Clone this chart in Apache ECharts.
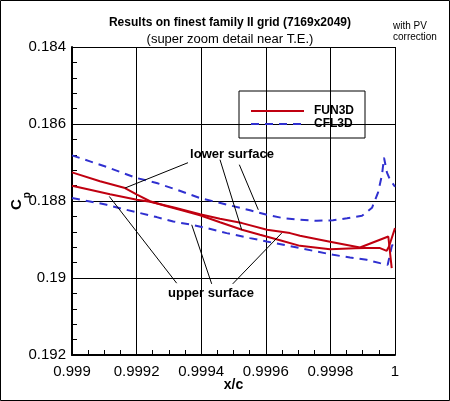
<!DOCTYPE html>
<html>
<head>
<meta charset="utf-8">
<script src="https://cdn.jsdelivr.net/npm/echarts@6/dist/echarts.min.js"></script>
<style>
html,body{margin:0;padding:0;background:#fff;}
#c{width:450px;height:401px;}
</style>
</head>
<body>
<div id="c"></div>
<script>
// ---- data ----
const xTickLabels = ['0.999', '0.9992', '0.9994', '0.9996', '0.9998', '1'];
const yTickLabels = ['0.184', '0.186', '0.188', '0.19', '0.192'];

// FUN3D lower surface
const funLowerX = [0.999, 0.9990867, 0.9991641, 0.9992012, 0.9992415, 0.9992879, 0.9993344, 0.9993963, 0.9994582, 0.9995263, 0.999582, 0.999644, 0.9997059, 0.9997988, 0.9998762, 0.9999071, 0.9999536, 0.9999743, 0.9999814, 1.0];
const funLowerY = [0.187257, 0.187486, 0.187663, 0.187837, 0.188006, 0.188124, 0.188228, 0.188371, 0.188553, 0.188748, 0.188878, 0.189021, 0.189165, 0.189255, 0.189229, 0.189224, 0.189224, 0.189294, 0.189182, 0.188704];
// FUN3D upper surface
const funUpperX = [0.999, 0.9990557, 0.9991176, 0.9992012, 0.9992415, 0.9993189, 0.9993963, 0.9994582, 0.9995263, 0.9996037, 0.999675, 0.9997059, 0.9997988, 0.9998916, 0.9999793, 0.9999898];
const funUpperY = [0.187603, 0.187707, 0.187824, 0.187967, 0.188019, 0.188176, 0.188345, 0.188462, 0.188574, 0.188748, 0.188834, 0.188904, 0.18906, 0.189208, 0.188922, 0.189744];
// CFL3D lower surface
const cflLowerX = [0.999, 0.9990557, 0.9991074, 0.9992003, 0.9992622, 0.9993241, 0.9993963, 0.9994684, 0.9995511, 0.9996037, 0.9996533, 0.9997059, 0.9997585, 0.999808, 0.9998514, 0.9998978, 0.9999288, 0.9999474, 0.9999598, 0.999966, 0.9999752, 0.9999845, 1.0];
const cflLowerY = [0.186815, 0.186971, 0.187117, 0.187403, 0.187533, 0.187707, 0.187923, 0.188071, 0.188241, 0.188358, 0.188444, 0.188488, 0.188514, 0.188501, 0.188449, 0.188384, 0.188176, 0.187785, 0.187317, 0.186875, 0.187265, 0.187447, 0.187629];
// CFL3D upper surface
const cflUpperX = [0.999, 0.9990557, 0.9991074, 0.9991588, 0.9992105, 0.9992622, 0.9993136, 0.9993706, 0.999417, 0.9994789, 0.9995511, 0.9996028, 0.9996542, 0.9997059, 0.9997576, 0.999809, 0.9998607, 0.9999124, 0.9999536, 0.9999774, 0.9999898, 1.0];
const cflUpperY = [0.187923, 0.188012, 0.188098, 0.188209, 0.188313, 0.188418, 0.188532, 0.188618, 0.188704, 0.188834, 0.188964, 0.189052, 0.189138, 0.189224, 0.189312, 0.189398, 0.189469, 0.189528, 0.189614, 0.189658, 0.189182, 0.189008];

// annotations (data coordinates)
const annotTexts = ['lower surface', 'upper surface'];
const annotX = [0.9994954, 0.9994303];
const annotY = [0.186797, 0.190413];
const leaderFrom = [[0.9993591, 0.187005], [0.9994582, 0.186927], [0.999518, 0.187057], [0.9993241, 0.190135], [0.9994325, 0.190153], [0.9994975, 0.190153]];
const leaderTo = [[0.9991641, 0.187663], [0.9995254, 0.188748], [0.9995768, 0.188228], [0.9991155, 0.187882], [0.9993706, 0.188618], [0.9996492, 0.188834]];

const zip = (xs, ys) => xs.map((x, i) => [x, ys[i]]);
const FONT = '"Liberation Sans", Arial, Helvetica, sans-serif';
const RED = '#c00010';
const BLUE = '#3030d0';

const chart = echarts.init(document.getElementById('c'), null, {renderer: 'canvas'});
chart.setOption({
  animation: false,
  textStyle: {fontFamily: FONT},
  title: [
    {
      text: 'Results on finest family II grid (7169x2049)',
      subtext: '(super zoom detail near T.E.)',
      left: 230, top: 17, textAlign: 'center', padding: 0, itemGap: 4,
      textStyle: {fontFamily: FONT, fontSize: 12, fontWeight: 'bold', color: '#000'},
      subtextStyle: {fontFamily: FONT, fontSize: 13, color: '#000'}
    },
    {
      text: 'with PV\ncorrection',
      left: 393, top: 21, padding: 0,
      textStyle: {fontFamily: FONT, fontSize: 10, fontWeight: 'normal', lineHeight: 10.5, color: '#000'}
    }
  ],
  legend: {
    orient: 'vertical', left: 239, top: 91,
    data: ['FUN3D', 'CFL3D'],
    itemWidth: 53, itemHeight: 14, itemGap: 1,
    padding: [14, 11, 8, 11],
    borderColor: '#000', borderWidth: 1,
    itemStyle: {opacity: 0},
    textStyle: {fontFamily: FONT, fontSize: 12, fontWeight: 'bold', color: '#000', padding: [0, 0, 0, 5]}
  },
  grid: {left: 72, right: 55, top: 47, bottom: 46, containLabel: false, outerBoundsMode: 'none'},
  xAxis: {
    type: 'value', min: 0.999, max: 1, interval: 0.0002,
    name: 'x/c', nameLocation: 'middle', nameGap: 23, nameMoveOverlap: false,
    nameTextStyle: {fontFamily: FONT, fontSize: 14, fontWeight: 'bold', color: '#000'},
    axisLine: {lineStyle: {color: '#000', width: 2}},
    axisTick: {inside: true, length: 9, lineStyle: {color: '#000', width: 1}},
    minorTick: {show: true, splitNumber: 4, length: 5, lineStyle: {color: '#000', width: 1}},
    splitLine: {show: true, lineStyle: {color: '#000', width: 1}},
    axisLabel: {
      color: '#000', fontSize: 15, margin: 9, fontFamily: FONT,
      formatter: v => xTickLabels[Math.round((v - 0.999) / 0.0002)]
    }
  },
  yAxis: {
    type: 'value', inverse: true, min: 0.184, max: 0.192, interval: 0.002,
    name: '{a|C}{b|p}', nameLocation: 'middle', nameGap: 47, nameRotate: 90, nameMoveOverlap: false,
    nameTextStyle: {
      color: '#000',
      rich: {
        a: {fontFamily: FONT, fontSize: 15, fontWeight: 'bold', color: '#000', lineHeight: 16},
        b: {fontFamily: FONT, fontSize: 10, fontWeight: 'bold', color: '#000', lineHeight: 10, padding: [20, 0, 0, 1]}
      }
    },
    axisLine: {lineStyle: {color: '#000', width: 2}},
    axisTick: {inside: true, length: 9, lineStyle: {color: '#000', width: 1}},
    minorTick: {show: true, splitNumber: 5, length: 5, lineStyle: {color: '#000', width: 1}},
    splitLine: {show: true, lineStyle: {color: '#000', width: 1}},
    axisLabel: {
      color: '#000', fontSize: 15, margin: 6, fontFamily: FONT,
      formatter: v => yTickLabels[Math.round((v - 0.184) / 0.002)]
    }
  },
  series: [
    {
      name: 'CFL3D', type: 'line', symbol: 'none', data: zip(cflLowerX, cflLowerY),
      lineStyle: {color: BLUE, width: 2, type: [8, 6]}, itemStyle: {color: BLUE}, z: 2
    },
    {
      name: 'CFL3D', type: 'line', symbol: 'none', data: zip(cflUpperX, cflUpperY),
      lineStyle: {color: BLUE, width: 2, type: [8, 6]}, itemStyle: {color: BLUE}, z: 2
    },
    {
      name: 'FUN3D', type: 'line', symbol: 'none', data: zip(funLowerX, funLowerY),
      lineStyle: {color: RED, width: 2}, itemStyle: {color: RED}, z: 3
    },
    {
      name: 'FUN3D', type: 'line', symbol: 'none', data: zip(funUpperX, funUpperY),
      lineStyle: {color: RED, width: 2}, itemStyle: {color: RED}, z: 3,
      markLine: {
        silent: true, symbol: ['none', 'none'], animation: false,
        lineStyle: {color: '#000', width: 1, type: 'solid'},
        label: {show: false},
        data: leaderFrom.map((p, i) => [{coord: p}, {coord: leaderTo[i]}])
      },
      markPoint: {
        silent: true, symbol: 'rect', symbolSize: 1,
        itemStyle: {color: 'rgba(0,0,0,0)'},
        label: {show: true, position: 'inside', color: '#000', fontFamily: FONT, fontSize: 13, fontWeight: 'bold', formatter: '{b}'},
        data: annotTexts.map((t, i) => ({name: t, coord: [annotX[i], annotY[i]]}))
      }
    }
  ],
  graphic: [
    {type: 'rect', silent: true, z: 100, shape: {x: 0.5, y: 0.5, width: 449, height: 400}, style: {fill: 'none', stroke: '#000', lineWidth: 1}}
  ]
});
</script>
</body>
</html>
